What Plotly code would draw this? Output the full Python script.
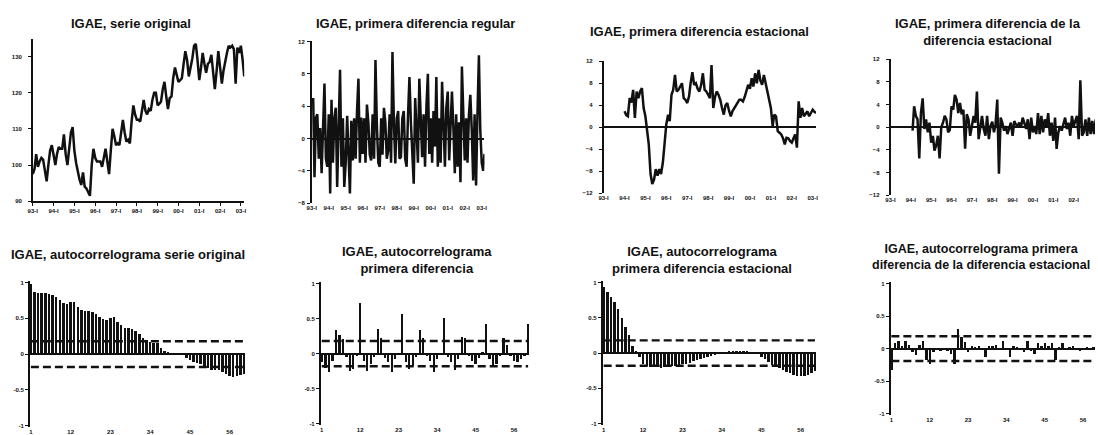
import plotly.graph_objects as go
import pandas as pd

W, H = 1098, 435

# ---------------- data ----------------
months = pd.date_range("1993-01-01", periods=123, freq="MS")   # 1993-01 .. 2003-03
year_ticks = pd.date_range("1993-01-01", periods=11, freq="12MS")
year_labels = ["93-I", "94-I", "95-I", "96-I", "97-I", "98-I", "99-I", "00-I", "01-I", "02-I", "03-I"]

igae = [97.5, 99.0, 103.0, 99.5, 101.0, 102.0, 101.5, 99.0, 95.5, 100.0, 104.0, 105.5,
        102.0, 100.0, 103.0, 105.0, 104.5, 104.5, 108.5, 103.0, 100.0, 105.0, 109.0, 110.5,
        104.0, 100.5, 98.0, 96.0, 94.5, 98.0, 94.0, 93.5, 92.5, 91.5, 100.0, 104.5,
        102.0, 101.0, 101.0, 101.0, 99.5, 102.0, 104.5, 101.0, 97.5, 104.0, 110.0, 108.0,
        105.5, 106.0, 105.5, 109.0, 112.5, 109.0, 106.5, 107.0, 106.0, 112.0, 116.5, 114.0,
        112.5, 112.5, 112.0, 115.0, 118.0, 115.0, 114.0, 115.5, 115.0, 118.0, 120.0, 120.0,
        116.5, 117.0, 117.5, 121.0, 123.0, 119.0, 115.5, 118.5, 119.0, 124.0, 127.0, 125.0,
        123.0, 123.5, 124.0, 128.0, 131.5, 129.0, 124.5, 127.0, 129.5, 133.0, 133.5, 129.0,
        123.5, 127.0, 131.0, 128.0, 125.5, 128.0, 128.5, 130.5, 125.0, 121.0, 126.0, 131.5,
        127.0, 122.5, 126.0, 129.0, 131.0, 133.0, 132.5, 133.0, 132.0, 122.5, 132.5, 131.0,
        133.0, 129.0, 124.5]

# first regular difference, 1993-02 .. 2003-03
diff_regular = [5, -4.8, 2.6, 3, -2.5, 1.3, -4.3, 3, 6.8, -2.5,
                -3.5, 3, -6.8, 4.8, -3, 2.5, 3.8, -6, 3, 8.5,
                -3.5, 2.5, -6, -3, 2.8, -1.5, -6.8, 2.2, -2.7, 2.5,
                -2.5, 3.5, 7.4, -3, 2.6, -1.9, 2.5, -3, 4.2, 2,
                -2, -2.7, 3, -2.5, 9.7, 1.5, -3, -3.5, 2.5, -2,
                3.8, 2, -2.5, -1.5, 3, -3, 10.7, 2, -3.1, 2.5,
                3.4, -2.5, -2.3, 2.5, 3.4, -2.5, -3.5, 3, 7.6, 2,
                -3, -5.6, 5, 0.5, -3, 7.4, 3, -2.3, 3, -3.5,
                4, 8, -1.9, 2.5, -3, 3.4, -1, 7.6, -3.5, 2.5,
                -3, 7, 2, -3.5, 3.8, 5.8, -2.7, 2.5, 5.8, 1.5,
                -4.3, 3, -3.5, 2, -5.4, 8.9, 2, -2.7, 2.5, -3,
                3, 5.4, 1, -5.2, 3, -5.8, 3, 10.3, 1, -3,
                -4, -1.9]

# first seasonal difference, 1994-01 .. 2003-03
diff_seasonal = [2.9, 2.2, 2.0, 5.3, 4.5, 6.8, 1.7, 6.5, 5.3, 6.5, 7.1, 3.5,
                 2.0, -0.5, -3.1, -8.5, -10.3, -9.5, -7.6, -8.8, -7.6, -8.5, -6.5, -3.1,
                 0.5, 2.3, 1.1, 5.9, 6.8, 9.5, 6.5, 6.8, 7.5, 8.0, 5.3, 5.0,
                 4.4, 5.6, 8.0, 10.0, 7.7, 8.0, 7.0, 6.5, 7.7, 9.8, 6.8, 6.5,
                 5.9, 5.3, 11.3, 3.5, 5.5, 6.5, 5.9, 5.0, 3.5, 2.3, 4.0, 4.4,
                 3.0, 2.0, 2.9, 3.5, 3.8, 4.5, 5.0, 5.0, 4.7, 5.5, 6.5, 7.7,
                 7.0, 8.9, 7.4, 9.8, 8.0, 10.4, 8.5, 7.7, 9.5, 8.0, 7.0, 5.6,
                 3.5, 0.2, 2.3, 2.0, -0.7, -1.0, -1.3, -2.0, -3.1, -1.9, -2.0, -2.5,
                 -2.8, -2.0, -1.3, -3.7, 4.7, 1.7, 3.5, 2.0, 2.5, 2.9, 2.0, 2.5,
                 3.2, 2.8, 2.6]

# first difference of the seasonal difference, 1994-02 .. 2003-03
diff_diff_seasonal = [-0.6, 3.7, 2.0, 1.4, -5.5, 2.5, 5.1, -0.3, 1.4, -0.9, 0.8, -2.7,
                      -1.5, -4.1, -3.2, -1.5, -5.5, 0.0, 0.8, 2.0, 1.4, -0.9, -0.5, 3.7,
                      3.1, 5.7, 4.9, 2.5, 4.3, 2.3, 3.1, -3.8, 2.3, 1.4, -1.5, 0.5,
                      2.0, 0.8, 6.3, -2.1, 0.5, 2.0, -0.3, -1.5, 2.0, -2.1, 0.2, 1.0,
                      -0.9, 0.5, 4.9, -8.2, 1.7, 0.8, -0.6, 0.2, -1.2, -0.3, 0.8, -1.5,
                      1.1, 0.5, 0.3, 0.8, 0.0, 1.7, 0.8, -0.3, 1.4, -2.1, 1.7, -0.9,
                      0.2, -1.2, 2.5, -1.2, 2.0, -0.9, 1.4, 0.0, 2.5, -1.5, 0.8, -2.4,
                      1.7, -3.8, -0.9, 0.2, -0.6, 0.8, 1.7, -0.3, 0.8, -1.5, 2.0, 0.2,
                      1.1, 2.0, -2.1, 8.3, -1.5, -0.9, 1.4, -1.5, 1.7, -1.2, 1.1, -1.2,
                      1.4, 0.5]

lags = list(range(1, 61))
lag_ticks = [1, 12, 23, 34, 45, 56]

acf_original = [0.98, 0.87, 0.85, 0.85, 0.85, 0.84, 0.82, 0.79, 0.75, 0.71,
                0.70, 0.73, 0.72, 0.65, 0.62, 0.60, 0.60, 0.58, 0.56, 0.52,
                0.49, 0.47, 0.50, 0.51, 0.45, 0.40, 0.37, 0.36, 0.35, 0.32,
                0.28, 0.23, 0.19, 0.17, 0.15, 0.15, 0.09, 0.04, 0.02, 0.01,
                0.01, 0.00, -0.02, -0.05, -0.09, -0.11, -0.13, -0.14, -0.17, -0.20,
                -0.22, -0.23, -0.23, -0.25, -0.28, -0.31, -0.32, -0.31, -0.30, -0.28]

acf_diff = [-0.12, -0.20, -0.27, -0.10, 0.33, 0.26, 0.20, -0.05, -0.25, -0.22,
            -0.03, 0.72, -0.10, -0.25, -0.15, -0.05, 0.35, 0.22, -0.06, -0.12,
            -0.27, -0.08, -0.02, 0.57, -0.12, -0.22, -0.18, -0.05, 0.33, 0.22,
            -0.04, -0.10, -0.27, -0.08, -0.02, 0.50, -0.05, -0.12, -0.24, -0.08,
            0.24, 0.22, -0.03, -0.10, -0.15, -0.06, 0.02, 0.42, -0.08, -0.16,
            -0.15, -0.03, 0.22, 0.12, -0.04, -0.10, -0.12, -0.08, -0.04, 0.42]

acf_seasonal = [0.94, 0.86, 0.80, 0.72, 0.62, 0.50, 0.37, 0.25, 0.10, 0.02,
                -0.06, -0.15, -0.19, -0.20, -0.20, -0.20, -0.21, -0.20, -0.18, -0.18,
                -0.18, -0.17, -0.16, -0.15, -0.14, -0.12, -0.10, -0.09, -0.07, -0.05,
                -0.04, -0.03, -0.01, 0.00, 0.01, 0.02, 0.03, 0.03, 0.02, 0.03,
                0.02, 0.00, -0.01, -0.02, -0.05, -0.08, -0.13, -0.17, -0.19, -0.21,
                -0.24, -0.27, -0.29, -0.31, -0.32, -0.32, -0.32, -0.31, -0.29, -0.26]

acf_diff_seasonal = [-0.33, 0.09, 0.11, 0.04, 0.11, 0.06, -0.06, -0.10, 0.06, 0.12,
                     -0.18, -0.23, -0.06, -0.01, -0.03, -0.02, -0.03, -0.08, -0.23, 0.30,
                     0.18, 0.10, -0.06, 0.04, 0.01, 0.04, -0.01, -0.13, 0.04, 0.04,
                     0.06, -0.01, 0.11, -0.01, -0.13, 0.04, 0.02, -0.01, -0.06, 0.11,
                     -0.03, -0.08, 0.09, 0.04, 0.09, 0.04, 0.09, -0.18, 0.02, 0.09,
                     -0.01, 0.02, 0.04, -0.01, -0.03, -0.01, 0.03, -0.02, 0.02, 0.01]

conf_123 = 0.18
conf_110 = 0.19

titles = ["IGAE, serie original",
          "IGAE, primera diferencia regular",
          "IGAE, primera diferencia estacional",
          "IGAE, primera diferencia de la<br>diferencia estacional",
          "IGAE, autocorrelograma serie original",
          "IGAE, autocorrelograma<br>primera diferencia",
          "IGAE, autocorrelograma<br>primera diferencia estacional",
          "IGAE, autocorrelograma primera<br>diferencia de la diferencia estacional"]

# ---------------- layout helpers ----------------
INK = "#111111"
FONT = "Liberation Sans"

# plot areas in pixels: (left, right, top, bottom)
boxes = [(28, 241, 36, 201), (309, 483, 39, 203), (603, 817, 59, 193), (892, 1098, 57, 195),
         (25, 242, 282, 430), (318, 528, 283, 428), (602, 817, 282, 428), (892, 1098, 283, 418)]
title_pos = [(127, 21), (414, 21), (700, 29), (990, 29),
             (124, 255), (415, 261), (702, 261), (983, 258)]
title_size = [13, 13, 13, 13, 13, 13, 13, 12.5]


def dom(box):
    l, r, t, b = box
    return [l / W, r / W], [1 - b / H, 1 - t / H]


fig = go.Figure()

line_style = dict(color=INK, width=2.5)
fig.add_trace(go.Scatter(x=months, y=igae, mode="lines", line=line_style, xaxis="x", yaxis="y"))
fig.add_trace(go.Scatter(x=months[1:], y=diff_regular, mode="lines", line=line_style, xaxis="x2", yaxis="y2"))
fig.add_trace(go.Scatter(x=months[12:], y=diff_seasonal, mode="lines", line=line_style, xaxis="x3", yaxis="y3"))
fig.add_trace(go.Scatter(x=months[13:], y=diff_diff_seasonal, mode="lines", line=line_style, xaxis="x4", yaxis="y4"))

acfs = [(acf_original, conf_123), (acf_diff, conf_123), (acf_seasonal, conf_123), (acf_diff_seasonal, conf_110)]
for k, (vals, c) in enumerate(acfs):
    ax = str(k + 5)
    fig.add_trace(go.Bar(x=lags, y=vals, width=0.55, marker=dict(color=INK, line=dict(width=0)),
                         xaxis="x" + ax, yaxis="y" + ax))
    for sign in (1, -1):
        fig.add_trace(go.Scatter(x=lags, y=[sign * c] * len(lags), mode="lines",
                                 line=dict(color=INK, width=2.4, dash="8px,4px"),
                                 xaxis="x" + ax, yaxis="y" + ax))

layout = dict(width=W, height=H, margin=dict(l=0, r=0, t=0, b=0),
              paper_bgcolor="white", plot_bgcolor="white", showlegend=False,
              font=dict(family=FONT, color=INK), bargap=0)

tick_font = dict(family=FONT, size=6, color=INK, weight="bold")
date_end = pd.Timestamp("2003-03-01")
x_ranges = [[months[0], date_end], [months[0], date_end], [months[0], date_end],
            [months[0], pd.Timestamp("2003-01-19")]]
y_ranges = [[90, 135], [-8, 12], [-12, 12], [-12, 12]]
y_ticks = [[90, 100, 110, 120, 130], [-8, -4, 0, 4, 8, 12], [-12, -8, -4, 0, 4, 8, 12], [-12, -8, -4, 0, 4, 8, 12]]
lag_ranges = [[0.7, 60.3], [0.7, 60.3], [0.7, 60.3], [0.75, 59.45]]

for i in range(8):
    xd, yd = dom(boxes[i])
    xn = "xaxis" if i == 0 else f"xaxis{i + 1}"
    yn = "yaxis" if i == 0 else f"yaxis{i + 1}"
    anchor_x = "x" if i == 0 else f"x{i + 1}"
    anchor_y = "y" if i == 0 else f"y{i + 1}"
    if i < 4:
        xa = dict(domain=xd, anchor=anchor_y, range=x_ranges[i], tickvals=year_ticks, ticktext=year_labels,
                  showgrid=False, zeroline=False, tickfont=tick_font,
                  showline=(i == 0), linecolor=INK, linewidth=1.5,
                  ticks="outside" if i == 0 else "", ticklen=3, tickcolor=INK)
        ya = dict(domain=yd, anchor=anchor_x, range=y_ranges[i], tickvals=y_ticks[i],
                  showgrid=False, zeroline=(i > 0), zerolinecolor=INK, zerolinewidth=1.5,
                  showline=True, linecolor=INK, linewidth=1.5, ticks="outside", ticklen=3,
                  tickcolor=INK, tickfont=tick_font,
                  ticklabelstandoff=5 if i in (0, 2, 3) else 1)
    else:
        xa = dict(domain=xd, anchor=anchor_y, range=lag_ranges[i - 4], tickvals=lag_ticks,
                  showgrid=False, zeroline=False, showline=False, ticks="", tickfont=tick_font)
        ya = dict(domain=yd, anchor=anchor_x, range=[-1.02, 1.02], tickvals=[-1, -0.5, 0, 0.5, 1],
                  ticktext=["-1", "-0.5", "0", "0.5", "1"],
                  showgrid=False, zeroline=True, zerolinecolor=INK, zerolinewidth=1.5,
                  showline=True, linecolor=INK, linewidth=1.5, ticks="outside", ticklen=3,
                  tickcolor=INK, tickfont=tick_font)
    layout[xn] = xa
    layout[yn] = ya

annotations = []
for t, (cx, cy), fs in zip(titles, title_pos, title_size):
    annotations.append(dict(text="<b>" + t + "</b>", x=cx / W, y=1 - cy / H, xref="paper", yref="paper",
                            xanchor="center", yanchor="middle", showarrow=False,
                            font=dict(family=FONT, size=fs, color=INK)))
layout["annotations"] = annotations

fig.update_layout(**layout)
fig.write_html("out.html")
